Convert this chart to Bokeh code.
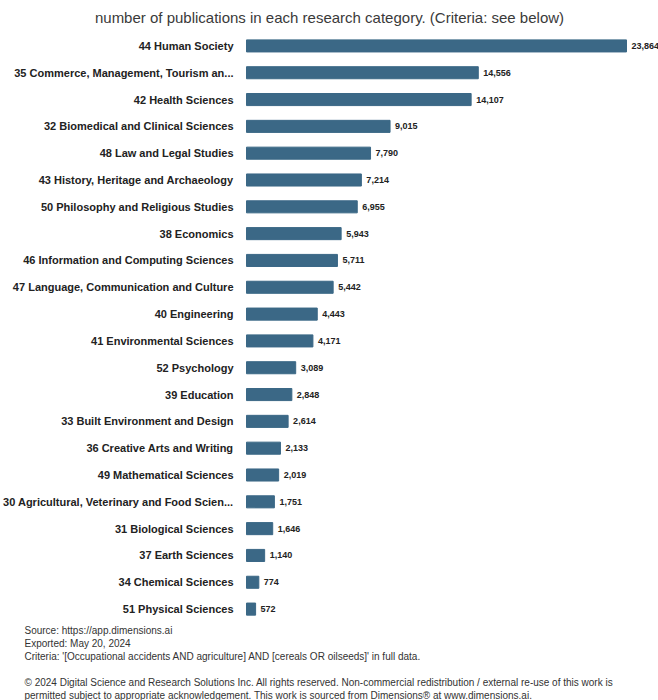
from bokeh.plotting import figure
from bokeh.models import ColumnDataSource, Range1d, FactorRange, Title
from bokeh.core.properties import value
from bokeh.embed import file_html
from bokeh.resources import INLINE

categories = [
    "44 Human Society",
    "35 Commerce, Management, Tourism an...",
    "42 Health Sciences",
    "32 Biomedical and Clinical Sciences",
    "48 Law and Legal Studies",
    "43 History, Heritage and Archaeology",
    "50 Philosophy and Religious Studies",
    "38 Economics",
    "46 Information and Computing Sciences",
    "47 Language, Communication and Culture",
    "40 Engineering",
    "41 Environmental Sciences",
    "52 Psychology",
    "39 Education",
    "33 Built Environment and Design",
    "36 Creative Arts and Writing",
    "49 Mathematical Sciences",
    "30 Agricultural, Veterinary and Food Scien...",
    "31 Biological Sciences",
    "37 Earth Sciences",
    "34 Chemical Sciences",
    "51 Physical Sciences",
]
counts = [23864, 14556, 14107, 9015, 7790, 7214, 6955, 5943, 5711, 5442,
          4443, 4171, 3089, 2848, 2614, 2133, 2019, 1751, 1646, 1140, 774, 572]

title_text = "number of publications in each research category. (Criteria: see below)"
footer_lines = [
    "Source: https://app.dimensions.ai",
    "Exported: May 20, 2024",
    "Criteria: '[Occupational accidents AND agriculture] AND [cereals OR oilseeds]' in full data.",
    "",
    "\u00a9 2024 Digital Science and Research Solutions Inc. All rights reserved. Non-commercial redistribution / external re-use of this work is",
    "permitted subject to appropriate acknowledgement. This work is sourced from Dimensions\u00ae at www.dimensions.ai.",
]

W, H = 658, 700
bar_x0 = 246
bar_px_max = 380
scale = bar_px_max / max(counts)

source = ColumnDataSource(dict(
    cat=categories,
    n=counts,
    zero=[0] * len(counts),
    lbl=[f"{c:,}" for c in counts],
))

p = figure(
    width=W, height=H,
    y_range=FactorRange(*reversed(categories), range_padding=0),
    x_range=Range1d(-bar_x0 / scale, (W - bar_x0) / scale),
    output_backend="svg", toolbar_location=None,
    min_border_left=0, min_border_right=0, min_border_top=0, min_border_bottom=0,
)
p.title.text = title_text
p.title.align = "center"
p.title.text_font = "Liberation Sans"
p.title.text_font_size = "15px"
p.title.text_font_style = "normal"
p.title.text_color = "#3a3a3a"
p.title.offset = 0
p.title.standoff = 13

p.hbar(y="cat", left="zero", right="n", height=0.45, source=source,
       fill_color="#3b6886", line_color="#3b6886")

p.text(x="zero", y="cat", text="cat", source=source, x_offset=-13,
       text_align="right", text_baseline="middle",
       text_font=value("Liberation Sans"), text_font_size="11px",
       text_font_style="bold", text_color="#222222")

p.text(x="n", y="cat", text="lbl", source=source, x_offset=5,
       text_align="left", text_baseline="middle",
       text_font=value("Liberation Sans"), text_font_size="9px",
       text_font_style="bold", text_color="#222222")

p.xaxis.visible = False
p.yaxis.visible = False
p.xgrid.visible = False
p.ygrid.visible = False
p.outline_line_color = None

for i, line in enumerate(footer_lines):
    t = Title(text=line if line else " ", align="left", offset=24,
              text_font="Liberation Sans", text_font_size="10px",
              text_font_style="normal", text_color="#333333",
              standoff=0)
    p.add_layout(t, "below")

open("out.html", "w").write(file_html(p, INLINE))
